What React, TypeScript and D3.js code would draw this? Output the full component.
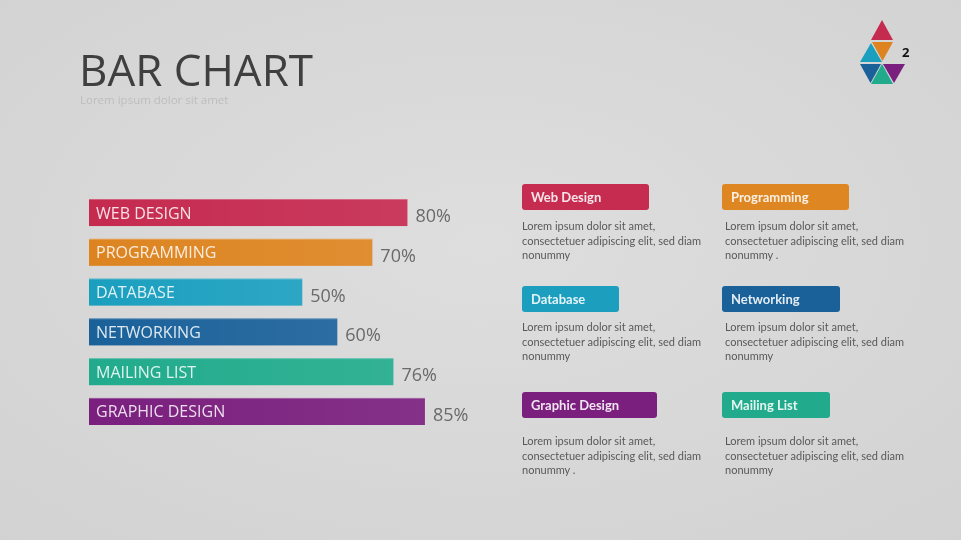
import React from "react";
import * as d3 from "d3";

// ---- data ----
const categories = ["WEB DESIGN", "PROGRAMMING", "DATABASE", "NETWORKING", "MAILING LIST", "GRAPHIC DESIGN"];
const values = [80, 70, 50, 60, 76, 85];
const colors = ["#c52a4f", "#dd8420", "#1b9fbf", "#1a619a", "#21ab8c", "#7a1f7e"];

const cardTitles = ["Web Design", "Programming", "Database", "Networking", "Graphic Design", "Mailing List"];
const cardColors = ["#c62b50", "#de8621", "#1c9fbf", "#1a619a", "#7a1f7e", "#21ab8c"];
const cardEndings = ["nonummy", "nonummy .", "nonummy", "nonummy", "nonummy .", "nonummy"];
const bodyLine1 = "Lorem ipsum dolor sit amet,";
const bodyLine2 = "consectetuer adipiscing elit, sed diam";

const title = "BAR CHART";
const subtitle = "Lorem ipsum dolor sit amet";
const pageNumber = "2";

// ---- layout (not data) ----
const W = 961;
const H = 540;
const barStart = 89;
const cardCols = [522, 722];
const cardRows = [
  { boxY: 184, textY: 230 },
  { boxY: 286, textY: 331 },
  { boxY: 392, textY: 445 },
];
const cardBoxWidths = [127, 127, 97, 118, 135, 108];

const logoTris: { pts: [number, number][]; c: string }[] = [
  { pts: [[882, 20], [871, 40], [893, 40]], c: "#c52a4f" },
  { pts: [[871, 43], [860, 62], [882, 62]], c: "#1b9fbf" },
  { pts: [[872, 42], [893, 42], [882.5, 61]], c: "#dd8420" },
  { pts: [[860, 64], [881, 64], [870.5, 83]], c: "#1a619a" },
  { pts: [[882, 64], [871, 84], [893, 84]], c: "#21ab8c" },
  { pts: [[883, 64], [905, 64], [894, 83]], c: "#7a1f7e" },
];

export default function App() {
  const x = d3.scaleLinear().domain([0, 100]).range([127, 477.5]);
  const y = d3
    .scaleBand<string>()
    .domain(categories)
    .range([199, 425])
    .paddingInner(0.32)
    .paddingOuter(0);
  const bw = y.bandwidth();

  return (
    <div style={{ position: "fixed", left: 0, top: 0, width: W, height: H }}>
      <svg width={W} height={H} style={{ display: "block" }}>
        <defs>
          <radialGradient id="bg" cx="50%" cy="45%" r="75%">
            <stop offset="0%" stopColor="#dedede" />
            <stop offset="100%" stopColor="#d2d2d2" />
          </radialGradient>
          <linearGradient id="gloss" x1="0" y1="0" x2="1" y2="0">
            <stop offset="0%" stopColor="#fff" stopOpacity={0} />
            <stop offset="100%" stopColor="#fff" stopOpacity={0.08} />
          </linearGradient>
        </defs>
        <rect x={0} y={0} width={W} height={H} fill="url(#bg)" />

        {/* title */}
        <text x={79} y={86} fontFamily="'Open Sans', sans-serif" fontSize={43.5} fill="#3f3f3f" textLength={234} lengthAdjust="spacingAndGlyphs">
          {title}
        </text>
        <text x={80} y={104} fontFamily="'Open Sans', sans-serif" fontSize={11.5} fill="#bdbdbd">
          {subtitle}
        </text>

        {/* logo */}
        {logoTris.map((t, i) => (
          <polygon key={i} points={t.pts.map((p) => p.join(",")).join(" ")} fill={t.c} />
        ))}
        <text x={902} y={57} fontFamily="'Open Sans', sans-serif" fontWeight={700} fontSize={13} fill="#111">
          {pageNumber}
        </text>

        {/* bars */}
        {categories.map((c, i) => {
          const y0 = y(c)!;
          const xe = x(values[i]);
          return (
            <g key={c}>
              <rect x={barStart} y={y0} width={xe - barStart} height={bw} fill={colors[i]} />
              <rect x={barStart} y={y0} width={xe - barStart} height={bw} fill="url(#gloss)" />
              <line x1={barStart} x2={xe} y1={y0 + 0.5} y2={y0 + 0.5} stroke="#ffffff" strokeOpacity={0.25} />
              <text x={96} y={y0 + bw / 2 + 6} fontFamily="'Open Sans', sans-serif" fontSize={16} fill="#ffffff" fillOpacity={0.85}>
                {c}
              </text>
              <text x={xe + 8} y={y0 + bw / 2 + 9.5} fontFamily="'Open Sans', sans-serif" fontSize={18} fill="#6a6a6a">
                {values[i]}%
              </text>
            </g>
          );
        })}

        {/* cards */}
        {cardTitles.map((t, i) => {
          const col = i % 2;
          const row = Math.floor(i / 2);
          const cx = cardCols[col];
          const r = cardRows[row];
          const tx = cx + (col === 0 ? 0 : 3);
          return (
            <g key={t}>
              <rect x={cx} y={r.boxY} width={cardBoxWidths[i]} height={26} rx={3} fill={cardColors[i]} />
              <text x={cx + 9} y={r.boxY + 18} fontFamily="Lato, sans-serif" fontWeight={700} fontSize={13} fill="#ffffff" fillOpacity={0.88}>
                {t}
              </text>
              {[bodyLine1, bodyLine2, cardEndings[i]].map((l, k) => (
                <text key={k} x={tx} y={r.textY + k * 14.5} fontFamily="Lato, sans-serif" fontSize={11} fill="#595959">
                  {l}
                </text>
              ))}
            </g>
          );
        })}
      </svg>
    </div>
  );
}
